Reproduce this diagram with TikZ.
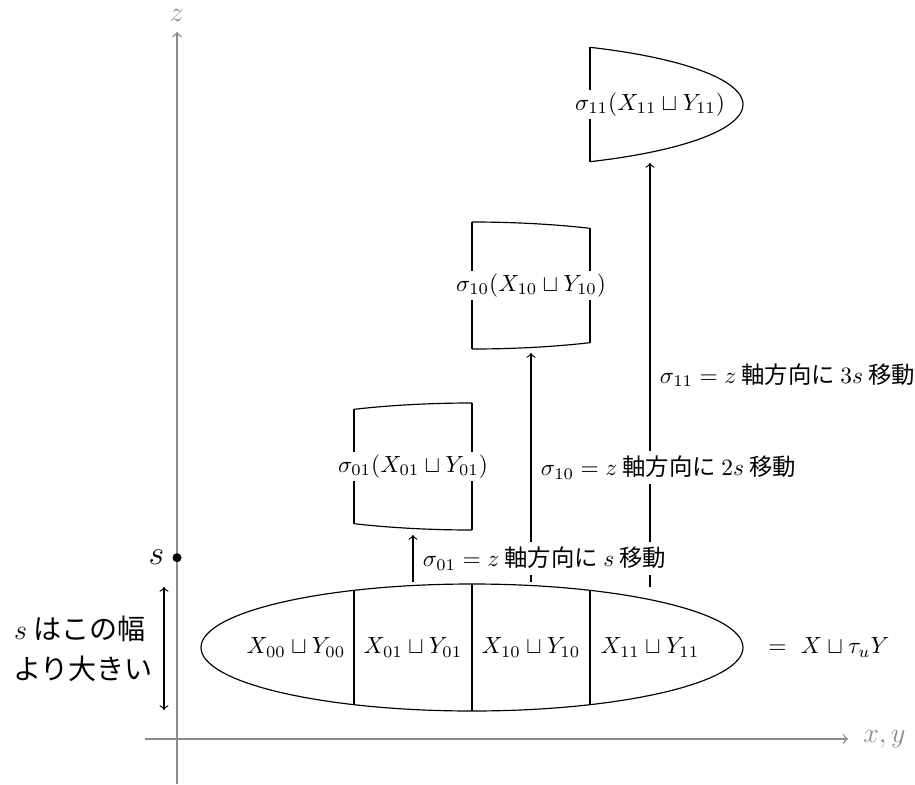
\documentclass[tikz,border=0pt]{standalone}
\usepackage{fontspec}
\newfontfamily\jp{Noto Sans CJK JP}
\begin{document}
\begin{tikzpicture}[x=0.4274pt,y=-0.4274pt,
  axis/.style={black!45, semithick, ->},
  axislabel/.style={text=black!45, font=\large},
  edge/.style={line width=0.5pt},
  mv/.style={line width=0.5pt,->},
  mvlabel/.style={midway, anchor=west, fill=white, inner sep=2pt, xshift=2pt, font=\jp},
  boxlabel/.style={fill=white, inner sep=1pt},
  celllabel/.style={inner sep=1pt},
]
\useasboundingbox (0,0) rectangle (915,784);

% axes
\coordinate (zb) at (177,784);
\coordinate (zt) at (177,32);
\coordinate (xl) at (145,739);
\coordinate (xr) at (848,739);
\draw[axis] (zb) -- (zt);
\draw[axis] (xl) -- (xr);
\node[axislabel, above=1pt] (zlab) at (zt) {$z$};
\node[axislabel, right=3pt] (xlab) at (xr) {$x,y$};

% s mark
\coordinate (sdot) at (177,557.7);
\fill (sdot) circle[radius=4.5];
\node[left=2pt, font=\Large] (slab) at (sdot) {$s$};

% width arrow
\coordinate (wt) at (164,587);
\coordinate (wb) at (164,710);
\draw[line width=0.5pt,<->] (wt) -- (wb);
\node[align=center, font=\large\jp] (wtext) at (80,649) {$s$\ はこの幅\\[3pt]\ より大きい};

% big ellipse
\draw[edge] (472,647.5) ellipse [x radius=271, y radius=63.5];
\draw[edge] (354,590.3) -- (354,704.7);
\draw[edge] (472,584) -- (472,711);
\draw[edge] (590,590.3) -- (590,704.7);
\node[celllabel] (c00) at (296,647.5) {$X_{00}\sqcup Y_{00}$};
\node[celllabel] (c01) at (413,647.5) {$X_{01}\sqcup Y_{01}$};
\node[celllabel] (c10) at (531,647.5) {$X_{10}\sqcup Y_{10}$};
\node[celllabel] (c11) at (650,647.5) {$X_{11}\sqcup Y_{11}$};
\node[anchor=west, inner sep=0pt] (eq) at (768,647.5) {$=\ X\sqcup\tau_u Y$};

% sigma01 box (shift 181)
\begin{scope}
\clip (354,0) rectangle (472,784);
\draw[edge] (472,466.5) ellipse [x radius=271, y radius=63.5];
\end{scope}
\draw[edge] (354,409.3) -- (354,523.7);
\draw[edge] (472,403) -- (472,530);
\node[boxlabel] (b01) at (413,466.5) {$\sigma_{01}(X_{01}\sqcup Y_{01})$};

% sigma10 box (shift 362)
\begin{scope}
\clip (472,0) rectangle (590,784);
\draw[edge] (472,285.5) ellipse [x radius=271, y radius=63.5];
\end{scope}
\draw[edge] (472,222) -- (472,349);
\draw[edge] (590,228.3) -- (590,342.7);
\node[boxlabel] (b10) at (531,285.5) {$\sigma_{10}(X_{10}\sqcup Y_{10})$};

% sigma11 box (shift 543)
\begin{scope}
\clip (590,0) rectangle (800,784);
\draw[edge] (472,104.5) ellipse [x radius=271, y radius=63.5];
\end{scope}
\draw[edge] (590,47.3) -- (590,161.7);
\node[boxlabel] (b11) at (650,104.5) {$\sigma_{11}(X_{11}\sqcup Y_{11})$};

% move arrows
\coordinate (a01s) at (413,582);
\coordinate (a01e) at (413,535);
\coordinate (a10s) at (531,582);
\coordinate (a10e) at (531,353);
\coordinate (a11s) at (650,587);
\coordinate (a11e) at (650,163);
\draw[mv] (a11s) -- (a11e) node[mvlabel] (l11) {$\sigma_{11}=z$ 軸方向に $3s$ 移動};
\draw[mv] (a10s) -- (a10e) node[mvlabel] (l10) {$\sigma_{10}=z$ 軸方向に $2s$ 移動};
\draw[mv] (a01s) -- (a01e) node[mvlabel] (l01) {$\sigma_{01}=z$ 軸方向に $s$ 移動};
\end{tikzpicture}
\end{document}
